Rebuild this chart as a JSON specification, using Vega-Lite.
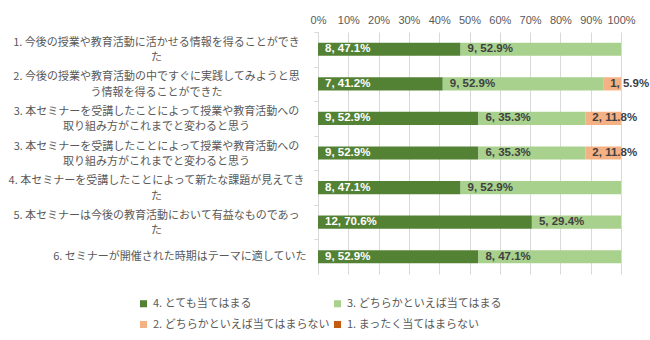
{
  "$schema": "https://vega.github.io/schema/vega-lite/v6.json",
  "width": 303,
  "height": 242,
  "autosize": {"type": "none"},
  "padding": {"left": 318, "top": 32, "right": 29, "bottom": 66},
  "config": {"view": {"stroke": null}, "font": "Noto Sans CJK JP"},
  "data": {
    "values": [
      {"q": "1. 今後の授業や教育活動に活かせる情報を得ることができ\nた", "r": "4. とても当てはまる", "n": 8, "label": "8, 47.1%"},
      {"q": "1. 今後の授業や教育活動に活かせる情報を得ることができ\nた", "r": "3. どちらかといえば当てはまる", "n": 9, "label": "9, 52.9%"},
      {"q": "2. 今後の授業や教育活動の中ですぐに実践してみようと思\nう情報を得ることができた", "r": "4. とても当てはまる", "n": 7, "label": "7, 41.2%"},
      {"q": "2. 今後の授業や教育活動の中ですぐに実践してみようと思\nう情報を得ることができた", "r": "3. どちらかといえば当てはまる", "n": 9, "label": "9, 52.9%"},
      {"q": "2. 今後の授業や教育活動の中ですぐに実践してみようと思\nう情報を得ることができた", "r": "2. どちらかといえば当てはまらない", "n": 1, "label": "1, 5.9%"},
      {"q": "3. 本セミナーを受講したことによって授業や教育活動への\n取り組み方がこれまでと変わると思う", "r": "4. とても当てはまる", "n": 9, "label": "9, 52.9%"},
      {"q": "3. 本セミナーを受講したことによって授業や教育活動への\n取り組み方がこれまでと変わると思う", "r": "3. どちらかといえば当てはまる", "n": 6, "label": "6, 35.3%"},
      {"q": "3. 本セミナーを受講したことによって授業や教育活動への\n取り組み方がこれまでと変わると思う", "r": "2. どちらかといえば当てはまらない", "n": 2, "label": "2, 11.8%"},
      {"q": "3. 本セミナーを受講したことによって授業や教育活動への\n取り組み方がこれまでと変わると思う\u200b", "r": "4. とても当てはまる", "n": 9, "label": "9, 52.9%"},
      {"q": "3. 本セミナーを受講したことによって授業や教育活動への\n取り組み方がこれまでと変わると思う\u200b", "r": "3. どちらかといえば当てはまる", "n": 6, "label": "6, 35.3%"},
      {"q": "3. 本セミナーを受講したことによって授業や教育活動への\n取り組み方がこれまでと変わると思う\u200b", "r": "2. どちらかといえば当てはまらない", "n": 2, "label": "2, 11.8%"},
      {"q": "4. 本セミナーを受講したことによって新たな課題が見えてき\nた", "r": "4. とても当てはまる", "n": 8, "label": "8, 47.1%"},
      {"q": "4. 本セミナーを受講したことによって新たな課題が見えてき\nた", "r": "3. どちらかといえば当てはまる", "n": 9, "label": "9, 52.9%"},
      {"q": "5. 本セミナーは今後の教育活動において有益なものであっ\nた", "r": "4. とても当てはまる", "n": 12, "label": "12, 70.6%"},
      {"q": "5. 本セミナーは今後の教育活動において有益なものであっ\nた", "r": "3. どちらかといえば当てはまる", "n": 5, "label": "5, 29.4%"},
      {"q": "6. セミナーが開催された時期はテーマに適していた", "r": "4. とても当てはまる", "n": 9, "label": "9, 52.9%"},
      {"q": "6. セミナーが開催された時期はテーマに適していた", "r": "3. どちらかといえば当てはまる", "n": 8, "label": "8, 47.1%"}
    ]
  },
  "transform": [
    {"stack": "n", "groupby": ["q"], "sort": [{"field": "r", "order": "descending"}], "as": ["x0", "x1"], "offset": "normalize"}
  ],
  "encoding": {
    "y": {
      "field": "q",
      "type": "nominal",
      "sort": null,
      "scale": {"paddingInner": 0.62, "paddingOuter": 0.31},
      "axis": {
        "title": null,
        "labelExpr": "split(datum.value, '\\n')",
        "labelAlign": {"condition": {"test": "indexof(datum.value, '\\n') < 0", "value": "right"}, "value": "center"},
        "labelPadding": {"condition": {"test": "indexof(datum.value, '\\n') < 0", "value": 8}, "value": 158},
        "tickOffset": -17.29,
        "labelOffset": {"condition": {"test": "indexof(datum.value, '\\n') >= 0", "value": 10.29}, "value": 17.29},
        "labelFontSize": 11,
        "labelColor": "#595959",
        "labelLineHeight": 15.5,
        "labelLimit": 400,
        "domainColor": "#D9D9D9",
        "tickColor": "#D9D9D9",
        "tickSize": 4
      }
    },
    "x": {
      "field": "x0",
      "type": "quantitative",
      "scale": {"domain": [0, 1], "nice": false},
      "axis": {
        "orient": "top",
        "title": null,
        "format": ".0%",
        "values": [0, 0.1, 0.2, 0.3, 0.4, 0.5, 0.6, 0.7, 0.8, 0.9, 1],
        "labelOverlap": false,
        "labelFlush": false,
        "grid": true,
        "gridColor": "#D9D9D9",
        "domain": false,
        "ticks": false,
        "labelColor": "#595959",
        "labelFont": "Liberation Sans",
        "labelFontSize": 11,
        "labelPadding": 7
      }
    }
  },
  "layer": [
    {
      "mark": {"type": "bar"},
      "encoding": {
        "x2": {"field": "x1"},
        "color": {
          "field": "r",
          "type": "nominal",
          "scale": {
            "domain": ["4. とても当てはまる", "3. どちらかといえば当てはまる", "2. どちらかといえば当てはまらない", "1. まったく当てはまらない"],
            "range": ["#548235", "#A9D18E", "#F4B183", "#C55A11"]
          },
          "legend": {
            "orient": "none",
            "direction": "horizontal",
            "legendX": -180,
            "legendY": 266,
            "columns": 2,
            "title": null,
            "symbolType": "square",
            "symbolSize": 50,
            "labelFontSize": 11,
            "labelColor": "#595959",
            "labelLimit": 300,
            "columnPadding": 2,
            "rowPadding": 9
          }
        }
      }
    },
    {
      "mark": {"type": "text", "align": "left", "dx": 7, "font": "Liberation Sans", "fontWeight": "bold", "fontSize": 11.5},
      "encoding": {
        "text": {"field": "label"},
        "color": {
          "condition": {"test": "datum.r == '4. とても当てはまる'", "value": "#FFFFFF"},
          "value": "#404040"
        }
      }
    }
  ]
}
